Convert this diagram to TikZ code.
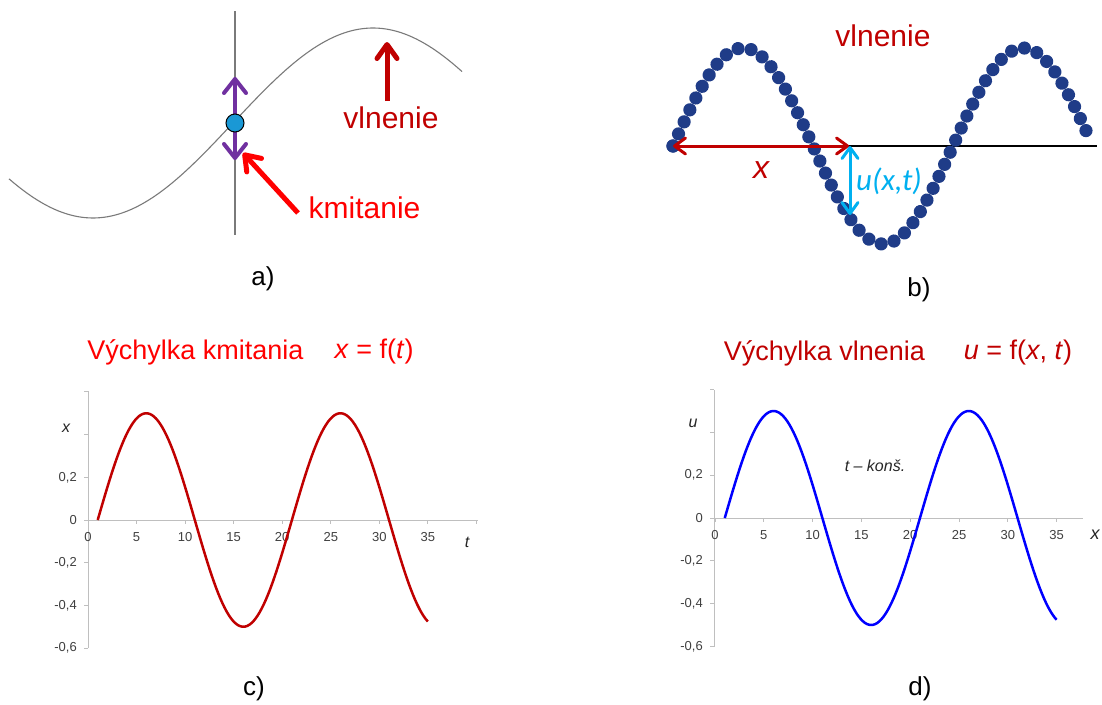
\documentclass[tikz,border=0pt]{standalone}
\usepackage{fontspec}
\setmainfont{Liberation Sans}
\newfontfamily\calib{Carlito}
\usetikzlibrary{arrows.meta,decorations.markings}
\definecolor{dred}{HTML}{C00000}
\definecolor{bred}{HTML}{FF0000}
\definecolor{purp}{HTML}{7030A0}
\definecolor{cyanb}{HTML}{00B0F0}
\definecolor{navy}{HTML}{1F3C88}
\definecolor{ballblue}{HTML}{1A98D5}
\definecolor{axisgray}{HTML}{BFBFBF}
\definecolor{ticktext}{HTML}{404040}
\definecolor{wblue}{HTML}{0000FF}
\definecolor{curvegray}{HTML}{7A7A7A}
\begin{document}
\begin{tikzpicture}[x=1pt,y=-1pt,
  panellbl/.style={font=\fontsize{26}{28}\selectfont, inner sep=0pt},
  titletxt/.style={font=\fontsize{27}{30}\selectfont, inner sep=0pt},
  bigtxt/.style={font=\fontsize{30}{32}\selectfont, inner sep=0pt},
  ticklbl/.style={font=\fontsize{13}{14}\selectfont, text=ticktext, inner sep=0pt},
  axislbl/.style={font=\fontsize{16}{18}\selectfont\itshape, text=black!85, inner sep=0pt},
  axisline/.style={draw=axisgray, line width=1pt},
  barb/.style={-{Straight Barb[length=14pt,width=20pt,line width=5pt,round]}},
  dbarb/.style={{Straight Barb[length=14pt,width=22pt,line width=4pt,round]}-{Straight Barb[length=14pt,width=22pt,line width=4pt,round]}},
  sbarb/.style={{Straight Barb[length=11pt,width=16pt,line width=3pt,round]}-{Straight Barb[length=11pt,width=16pt,line width=3pt,round]}},
]
\useasboundingbox (0,0) rectangle (1102,704);
\fill[white] (0,0) rectangle (1102,704);

% ---------------- panel a ----------------
\draw[curvegray, line width=1.1pt] (235,11) -- (235,235);
\draw[curvegray, line width=1.1pt] plot[domain=9:462, samples=120, smooth]
  (\x, {123-95*sin((\x-233)*0.642857)});
\coordinate (pa1) at (235,160);
\coordinate (pa2) at (235,77);
\draw[purp, line width=4pt, dbarb] (pa1) -- (pa2);
\node[circle, draw=black, line width=1pt, fill=ballblue, minimum size=18pt, inner sep=0pt] (ball) at (235,123) {};
\node[bigtxt, text=bred] (kmit) at (364.5,208) {kmitanie};
\coordinate (ka) at (298,213);
\coordinate (kb) at (243,153);
\draw[bred, line width=5pt, barb] (ka) -- (kb);
\node[bigtxt, text=dred] (vlna) at (391,118) {vlnenie};
\coordinate (va) at (387,101);
\coordinate (vb) at (387,42);
\draw[dred, line width=5pt, barb] (va) -- (vb);
\node[panellbl] (la) at (263,279) {a)};

% ---------------- panel b ----------------
\coordinate (bx0) at (673,146);
\coordinate (bx1) at (1097,146);
\draw[black, line width=1.3pt] (bx0) -- (bx1);
\path[decoration={markings, mark=between positions 0 and 1 step 13.3pt with {\fill[navy] (0,0) circle (6.6pt);}}, decorate]
  plot[domain=673:1089, samples=240] (\x, {146-98*sin((\x-673)*1.285714)});
\fill[navy] (673,146) circle (6.6pt);
\coordinate (bxa) at (673,146);
\coordinate (bxb) at (849,146);
\draw[dred, line width=3pt, sbarb] (bxa) -- (bxb);
\coordinate (bua) at (850,146);
\coordinate (bub) at (850,215);
\draw[cyanb, line width=3pt, sbarb] (bua) -- (bub);
\node[font=\fontsize{32}{34}\selectfont\itshape, text=dred, inner sep=0pt] (bxl) at (761,170) {x};
\node[font=\fontsize{31}{33}\selectfont\calib\itshape, text=cyanb, inner sep=0pt, anchor=west] (bul) at (856,181) {u(x,t)};
\node[bigtxt, text=dred] (vlnb) at (883,36) {vlnenie};
\node[panellbl] (lb) at (919,290) {b)};

% ---------------- panel c ----------------
\node[titletxt, text=bred] (tc1) at (195.5,352) {Výchylka kmitania};
\node[titletxt, text=bred] (tc2) at (374,352) {\textit{x} = f(\textit{t})};
\draw[axisline] (88,391) -- (88,648);
\draw[axisline] (88,520) -- (478,520);
\foreach \k in {-3,...,3} \draw[axisline] (84,{520-42.7*\k}) -- (88,{520-42.7*\k});
\foreach \k in {0,...,8} \draw[axisline] ({88+48.55*\k},520) -- ({88+48.55*\k},524);
\foreach \t in {0,5,...,35} \node[ticklbl] (cx\t) at ({88+9.71*\t},537) {\t};
\foreach \v/\s [count=\i] in {0.2/{0,2}, 0/0, -0.2/{-0,2}, -0.4/{-0,4}, -0.6/{-0,6}}
  \node[ticklbl, anchor=east] (cy\i) at (77,{520-213.5*\v}) {\s};
\node[axislbl] (cxl) at (66,428) {x};
\node[axislbl] (ctl) at (467,542) {t};
\draw[dred, line width=2.5pt, line join=round] plot[domain=1:35, samples=160]
  ({88+9.71*\x}, {520-106.75*sin(18*(\x-1))});
\node[panellbl] (lc) at (254,689) {c)};

% ---------------- panel d ----------------
\node[titletxt, text=dred] (td1) at (824.5,353) {Výchylka vlnenia};
\node[titletxt, text=dred] (td2) at (1018,353) {\textit{u} = f(\textit{x}, \textit{t})};
\draw[axisline] (714,390) -- (714,647);
\draw[axisline] (714,518) -- (1083,518);
\foreach \k in {-3,...,3} \draw[axisline] (710,{518-42.8*\k}) -- (714,{518-42.8*\k});
\foreach \k in {0,...,7} \draw[axisline] ({715+48.8*\k},518) -- ({715+48.8*\k},522);
\foreach \t in {0,5,...,35} \node[ticklbl] (dx\t) at ({715+9.76*\t},535) {\t};
\foreach \v/\s [count=\i] in {0.2/{0,2}, 0/0, -0.2/{-0,2}, -0.4/{-0,4}, -0.6/{-0,6}}
  \node[ticklbl, anchor=east] (dy\i) at (703,{518-214*\v}) {\s};
\node[axislbl] (dul) at (693,423) {u};
\node[axislbl, font=\fontsize{18}{20}\selectfont\itshape] (dxl) at (1095,535) {x};
\node[axislbl] (dkon) at (875,466) {t – konš.};
\draw[wblue, line width=2.5pt, line join=round] plot[domain=1:35, samples=160]
  ({715+9.76*\x}, {518-107*sin(18*(\x-1))});
\node[panellbl] (ld) at (920,689) {d)};
\end{tikzpicture}
\end{document}
